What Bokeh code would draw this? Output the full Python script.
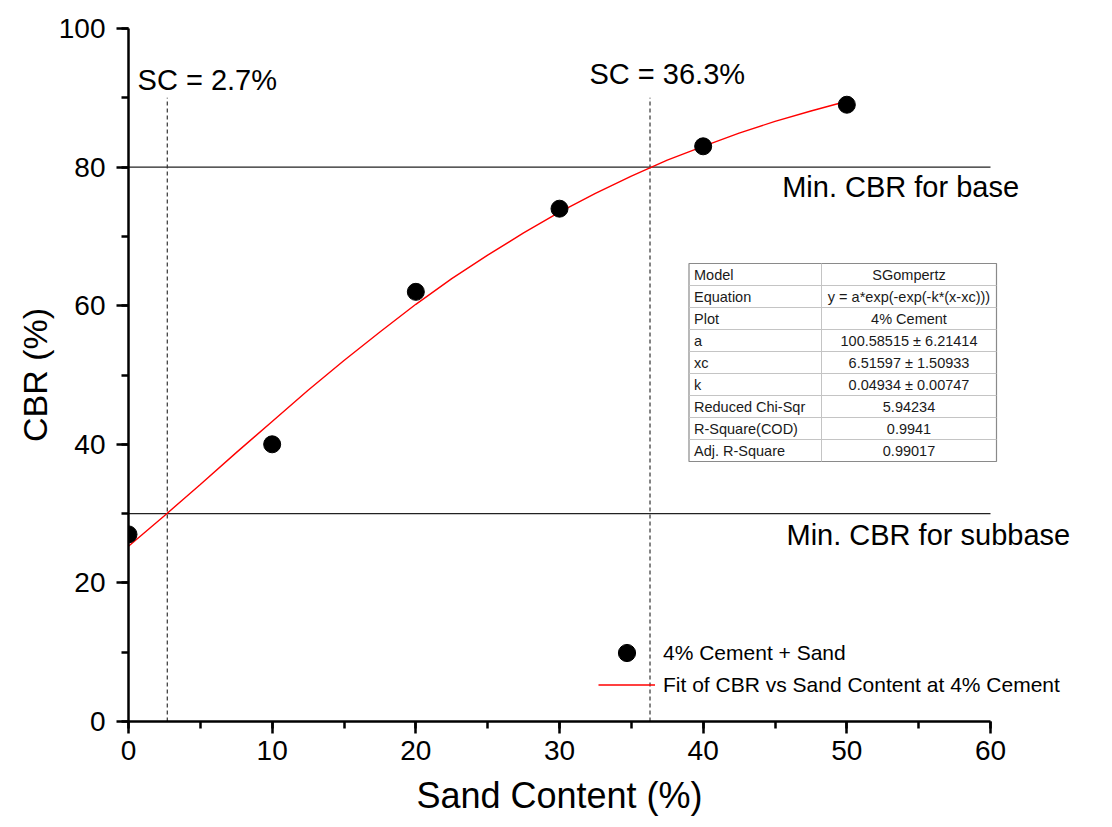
from bokeh.plotting import figure
from bokeh.models import (Range1d, SingleIntervalTicker, Legend, LegendItem,
                          Title)
from bokeh.core.properties import value
from bokeh.embed import file_html
from bokeh.resources import INLINE

FONT = "Liberation Sans"

# ---- data ----
sand = [0, 10, 20, 30, 40, 50]
cbr = [27, 40, 62, 74, 83, 89]

fit_x = [0, 2.5, 5, 7.5, 10, 12.5, 15, 17.5, 20, 22.5, 25, 27.5, 30,
         32.5, 35, 37.5, 40, 42.5, 45, 47.5, 50]
fit_y = [25.3, 29.7, 34.2, 38.8, 43.3, 47.8, 52.1, 56.2, 60.2, 63.9, 67.3,
         70.5, 73.5, 76.2, 78.7, 81.0, 83.0, 84.9, 86.6, 88.1, 89.5]

sc_values = [2.7, 36.3]
sc_labels = ["SC = 2.7%", "SC = 36.3%"]
min_cbr = [80, 30]
min_labels = ["Min. CBR for base", "Min. CBR for subbase"]

table_keys = ["Model", "Equation", "Plot", "a", "xc", "k",
              "Reduced Chi-Sqr", "R-Square(COD)", "Adj. R-Square"]
table_vals = ["SGompertz", "y = a*exp(-exp(-k*(x-xc)))", "4% Cement",
              "100.58515 \u00b1 6.21414", "6.51597 \u00b1 1.50933",
              "0.04934 \u00b1 0.00747", "5.94234", "0.9941", "0.99017"]

legend_labels = ["4% Cement + Sand", "Fit of CBR vs Sand Content at 4% Cement"]
x_title = "Sand Content (%)"
y_title = "CBR (%)"

# ---- layout constants ----
W, H = 1112, 827
L, R, T, B = 128, 12, 28, 106
PX_PER_X = (990 - 128) / 60.0
PX_PER_Y = (721 - 28) / 100.0
x_end = 60 + (W - R - 990) / PX_PER_X

p = figure(width=W, height=H, output_backend="svg", toolbar_location=None,
           x_range=Range1d(0, x_end), y_range=Range1d(0, 100),
           min_border_left=L, min_border_right=R, min_border_top=T,
           min_border_bottom=B, outline_line_color=None,
           background_fill_color="white", border_fill_color="white")
p.grid.visible = False

# axes
for ax in (p.xaxis[0], p.yaxis[0]):
    ax.axis_line_width = 2.5
    ax.major_tick_line_width = 2.5
    ax.minor_tick_line_width = 2.5
    ax.major_tick_out = 12
    ax.major_tick_in = 0
    ax.minor_tick_out = 7
    ax.minor_tick_in = 0
    ax.axis_line_color = "black"
    ax.major_tick_line_color = "black"
    ax.minor_tick_line_color = "black"
    ax.major_label_text_font = FONT
    ax.major_label_text_font_size = "28px"
    ax.major_label_text_color = "black"
    ax.axis_label_text_font = FONT
    ax.axis_label_text_font_size = "34px"
    ax.axis_label_text_font_style = "normal"
    ax.axis_label_text_color = "black"

p.xaxis.ticker = SingleIntervalTicker(interval=10, num_minor_ticks=2)
p.yaxis.ticker = SingleIntervalTicker(interval=20, num_minor_ticks=2)
p.xaxis.bounds = (0, 60)
p.yaxis.bounds = (0, 100)
p.yaxis.axis_label = y_title
p.xaxis.major_label_standoff = 7
p.yaxis.major_label_standoff = 11
p.yaxis.axis_label_standoff = 2

# x-axis title, centred under the drawn axis (0..60) rather than the frame
XT_SIZE = 36
xt_width = 7.948 * XT_SIZE
p.add_layout(Title(text=x_title, align="left",
                   offset=(990 - 128) / 2 - xt_width / 2,
                   text_font=FONT, text_font_size=f"{XT_SIZE}px",
                   text_font_style="normal", text_color="black",
                   standoff=21), "below")

# reference lines
p.segment(x0=[0, 0], y0=min_cbr, x1=[60, 60], y1=min_cbr,
          line_color="#222222", line_width=1.2)
p.segment(x0=sc_values, y0=[0, 0], x1=sc_values, y1=[90, 90],
          line_color="#333333", line_width=1.2, line_dash="4 3")

# fit curve and points
fit_r = p.line(fit_x, fit_y, line_color="#ff0000", line_width=1.4)
pts_r = p.scatter(sand, cbr, size=17, marker="circle", fill_color="black",
                  line_color="black")

# texts
p.text(x=[0.63, 32.09], y=[92.5, 93.4], text=sc_labels,
       text_font=value(FONT), text_font_size="29px", text_color="black",
       text_baseline="middle", text_align="left")
p.text(x=[45.5, 45.8], y=[77.1, 26.84], text=min_labels,
       text_font=value(FONT), text_font_size="29px", text_color="black",
       text_baseline="middle", text_align="left")

# parameter table
t_left = (688.5 - L) / PX_PER_X
t_right = (996 - L) / PX_PER_X
t_mid = (821 - L) / PX_PER_X
t_top = (721 - 263) / PX_PER_Y
row_h = 22 / PX_PER_Y
n = len(table_keys)
t_bot = t_top - n * row_h
p.quad(left=[t_left], right=[t_right], top=[t_top], bottom=[t_bot],
       fill_color="white", line_color="#8a8a8a", line_width=1.2)
row_lines_y = [t_top - row_h * (i + 1) for i in range(n - 1)]
p.segment(x0=[t_left] * (n - 1), x1=[t_right] * (n - 1),
          y0=row_lines_y, y1=row_lines_y, line_color="#c4c4c4", line_width=1)
p.segment(x0=[t_mid], x1=[t_mid], y0=[t_top], y1=[t_bot],
          line_color="#c4c4c4", line_width=1)
row_c = [t_top - row_h * (i + 0.5) for i in range(n)]
p.text(x=[t_left + 5 / PX_PER_X] * n, y=row_c, text=table_keys,
       text_font=value(FONT), text_font_size="14.5px", text_color="#1a1a1a",
       text_baseline="middle", text_align="left")
p.text(x=[(t_mid + t_right) / 2] * n, y=row_c, text=table_vals,
       text_font=value(FONT), text_font_size="14.5px", text_color="#1a1a1a",
       text_baseline="middle", text_align="center")

# legend: one legend per entry so the marker keeps its full size
common = dict(orientation="vertical", glyph_width=57, glyph_height=43,
              label_height=43, spacing=0, padding=0, margin=0,
              label_standoff=8, border_line_color=None,
              background_fill_alpha=0, label_text_font=FONT,
              label_text_font_size="21px", label_text_color="black")
leg1 = Legend(items=[LegendItem(label=legend_labels[0], renderers=[pts_r])],
              location=(470, 47), **common)
leg2 = Legend(items=[LegendItem(label=legend_labels[1], renderers=[fit_r])],
              location=(470, 15), **common)
p.add_layout(leg1, "center")
p.add_layout(leg2, "center")

open("out.html", "w").write(file_html(p, INLINE))
